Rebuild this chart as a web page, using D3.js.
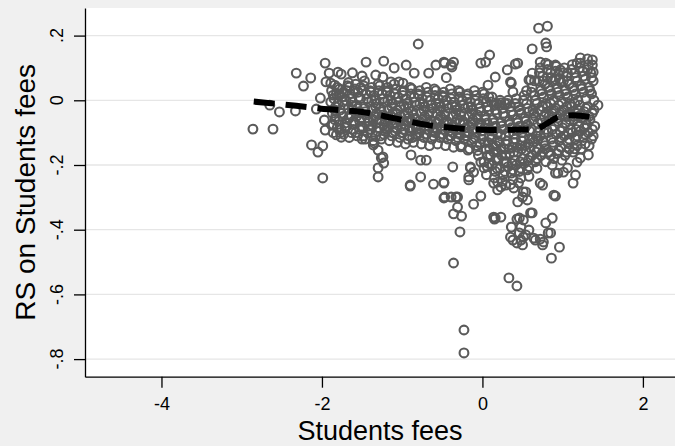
<!DOCTYPE html>
<html>
<head>
<meta charset="utf-8">
<script src="https://cdn.jsdelivr.net/npm/d3@7"></script>
<style>
  html, body { margin: 0; padding: 0; background: #f0f0f0; }
  svg { display: block; }
  text { font-family: "Liberation Sans", Arial, Helvetica, sans-serif; fill: #000; }
</style>
</head>
<body>
<svg id="chart" width="675" height="446"></svg>
<script>
// ---------------- DATA ----------------
const xTicks = [-4, -2, 0, 2];
const xTickLabels = ["-4", "-2", "0", "2"];
const yTicks = [0.2, 0, -0.2, -0.4, -0.6, -0.8];
const yTickLabels = [".2", "0", "-.2", "-.4", "-.6", "-.8"];
const xTitle = "Students fees";
const yTitle = "RS on Students fees";

// Lowess smoother
const lowessX = [-2.85, -2.32, -1.91, -1.50, -1.09, -0.69, -0.29, 0.10, 0.50, 0.65, 0.75, 0.95, 1.13, 1.41];
const lowessY = [-0.004, -0.017, -0.028, -0.036, -0.056, -0.076, -0.087, -0.092, -0.090, -0.090, -0.080, -0.052, -0.046, -0.055];

// Scatter: sparse points on the left
const pointsLeft = [[-2.86,-0.089],[-2.61,-0.089],[-2.65,-0.015],[-2.53,-0.036],[-2.32,0.084],[-2.23,0.044],[-2.14,0.069],[-2.33,-0.033],[-2.07,-0.027],[-2.13,-0.138],[-2.05,-0.160],[-1.99,-0.141],[-1.99,-0.240],[-1.96,0.115],[-2.02,0.007],[-1.91,0.084],[-1.80,0.087],[-1.76,0.081],[-1.95,0.057],[-1.89,0.053],[-1.84,0.047],[-1.97,-0.061],[-1.96,-0.092],[-1.88,-0.077],[-1.82,-0.107],[-1.76,-0.114],[-1.86,0.016],[-1.78,0.016],[-1.66,0.041],[-1.45,0.118],[-1.23,0.121],[-1.62,0.085],[-1.50,0.075]];

// Scatter: points above the main cloud
const pointsTop = [[-1.10,0.100],[-0.95,0.109],[-0.85,0.084],[-0.67,0.084],[-0.58,0.109],[-0.47,0.115],[-0.39,0.109],[-0.36,0.118],[-0.02,0.115],[0.04,0.118],[0.07,0.047],[-1.33,0.078],[-1.24,0.072],[-1.14,0.057],[-1.04,0.057],[-0.99,0.053],[-0.80,0.174],[-0.48,0.118],[-0.38,0.103],[0.70,0.223],[0.81,0.229],[0.79,0.177],[0.80,0.165],[0.62,0.159],[0.09,0.140],[0.16,0.072],[0.31,0.094],[0.41,0.112],[0.44,0.115],[0.35,0.057],[0.36,0.053],[0.38,0.026],[0.60,0.063],[0.62,0.084],[1.18,0.115],[1.31,0.128],[1.37,0.125],[1.38,0.087],[1.37,0.109],[1.44,-0.015],[1.22,0.131],[0.72,0.118],[0.79,0.115],[0.91,0.109],[1.06,0.084],[0.97,0.094],[0.58,0.063],[0.23,-0.008],[0.16,-0.015],[-0.45,0.070]];

// Scatter: points below the main cloud
const pointsBottom = [[1.32,-0.169],[0.94,-0.225],[1.01,-0.222],[1.16,-0.231],[1.13,-0.256],[0.89,-0.293],[0.91,-0.296],[0.72,-0.256],[0.75,-0.262],[-0.37,-0.206],[-0.48,-0.256],[-0.33,-0.299],[-0.11,-0.321],[-0.02,-0.296],[-0.15,-0.209],[-0.11,-0.222],[-0.17,-0.246],[0.19,-0.253],[0.23,-0.268],[0.44,-0.314],[0.50,-0.299],[0.51,-0.283],[0.54,-0.283],[0.14,-0.361],[0.23,-0.361],[-0.90,-0.265],[-0.47,-0.299],[-0.31,-0.330],[-0.36,-0.351],[-0.26,-0.358],[0.15,-0.367],[-0.28,-0.407],[-0.36,-0.503],[0.33,-0.549],[0.43,-0.574],[-0.23,-0.710],[-0.23,-0.781],[0.46,-0.364],[0.51,-0.370],[0.43,-0.367],[0.60,-0.348],[0.48,-0.392],[0.36,-0.392],[0.38,-0.432],[0.43,-0.441],[0.48,-0.432],[0.54,-0.416],[0.58,-0.401],[0.46,-0.410],[0.50,-0.447],[0.66,-0.432],[0.72,-0.429],[0.75,-0.447],[0.76,-0.438],[0.79,-0.379],[0.87,-0.364],[0.85,-0.410],[0.96,-0.454],[0.86,-0.488],[0.16,-0.364],[0.39,-0.271],[0.29,-0.262],[0.14,-0.256],[0.19,-0.277],[0.56,-0.308],[0.62,-0.348],[0.35,-0.423],[0.51,-0.423],[0.64,-0.426],[0.82,-0.410],[1.18,-0.191],[1.22,-0.178],[1.06,-0.209],[0.91,-0.225],[-1.35,-0.132],[-1.30,-0.154],[-1.24,-0.175],[-1.23,-0.194],[-1.30,-0.237],[-1.36,-0.138],[-1.26,-0.178],[-1.30,-0.209],[-0.89,-0.169],[-0.77,-0.185],[-0.70,-0.185],[-0.77,-0.237],[-0.90,-0.262],[-0.61,-0.259],[-0.48,-0.253],[-0.27,-0.144],[-0.18,-0.154],[-0.15,-0.206],[-0.17,-0.237],[-0.02,-0.191],[0.02,-0.209],[-0.39,-0.299],[-0.31,-0.299],[-0.48,-0.302]];

// Scatter: dense main cloud, x from -1.9 to 0
const pointsCoreLeft = [
[-1.88,0.030],[-1.85,0.005],[-1.83,-0.020],[-1.87,-0.040],[-1.84,-0.060],[-1.81,-0.085],[-1.86,-0.100],[-1.80,-0.010],[-1.82,0.020],
[-1.78,0.035],[-1.75,0.010],[-1.72,-0.015],[-1.77,-0.030],[-1.74,-0.050],[-1.71,-0.070],[-1.76,-0.090],[-1.73,-0.105],[-1.70,0.000],[-1.79,-0.065],
[-1.68,0.045],[-1.65,0.020],[-1.62,-0.005],[-1.67,-0.025],[-1.64,-0.045],[-1.61,-0.065],[-1.69,-0.080],[-1.63,-0.100],[-1.66,-0.115],[-1.60,0.030],[-1.62,-0.030],
[-1.58,0.050],[-1.55,0.025],[-1.52,0.005],[-1.57,-0.015],[-1.54,-0.035],[-1.51,-0.055],[-1.59,-0.070],[-1.53,-0.090],[-1.56,-0.110],[-1.50,-0.120],[-1.52,0.040],[-1.57,-0.050],
[-1.48,0.045],[-1.45,0.020],[-1.42,-0.005],[-1.47,-0.025],[-1.44,-0.045],[-1.41,-0.065],[-1.49,-0.085],[-1.43,-0.100],[-1.46,-0.120],[-1.40,0.030],[-1.42,-0.080],[-1.47,0.060],
[-1.38,0.040],[-1.35,0.015],[-1.32,-0.010],[-1.37,-0.030],[-1.34,-0.050],[-1.31,-0.070],[-1.39,-0.090],[-1.33,-0.110],[-1.36,-0.125],[-1.30,0.050],[-1.32,-0.040],[-1.38,0.000],
[-1.28,0.045],[-1.25,0.020],[-1.22,-0.005],[-1.27,-0.025],[-1.24,-0.045],[-1.21,-0.065],[-1.29,-0.085],[-1.23,-0.105],[-1.26,-0.120],[-1.20,0.030],[-1.22,-0.085],[-1.28,-0.060],
[-1.18,0.040],[-1.15,0.015],[-1.12,-0.010],[-1.17,-0.030],[-1.14,-0.050],[-1.11,-0.070],[-1.19,-0.090],[-1.13,-0.110],[-1.16,-0.125],[-1.10,0.050],[-1.12,-0.040],[-1.18,0.000],
[-1.08,0.035],[-1.05,0.010],[-1.02,-0.020],[-1.07,-0.040],[-1.04,-0.060],[-1.01,-0.080],[-1.09,-0.095],[-1.03,-0.115],[-1.06,-0.130],[-1.00,0.025],[-1.02,-0.050],[-1.08,-0.070],
[-0.98,0.030],[-0.95,0.005],[-0.92,-0.025],[-0.97,-0.045],[-0.94,-0.065],[-0.91,-0.085],[-0.99,-0.100],[-0.93,-0.120],[-0.96,-0.135],[-0.90,0.040],[-0.92,-0.055],[-0.98,-0.015],
[-0.88,0.035],[-0.85,0.010],[-0.82,-0.015],[-0.87,-0.035],[-0.84,-0.055],[-0.81,-0.075],[-0.89,-0.095],[-0.83,-0.110],[-0.86,-0.130],[-0.80,0.020],[-0.82,-0.090],[-0.88,-0.065],
[-0.78,0.030],[-0.75,0.005],[-0.72,-0.020],[-0.77,-0.040],[-0.74,-0.060],[-0.71,-0.080],[-0.79,-0.100],[-0.73,-0.115],[-0.76,-0.135],[-0.70,0.040],[-0.72,-0.050],[-0.78,-0.010],
[-0.68,0.025],[-0.65,0.000],[-0.62,-0.025],[-0.67,-0.045],[-0.64,-0.065],[-0.61,-0.085],[-0.69,-0.105],[-0.63,-0.120],[-0.66,-0.140],[-0.60,0.035],[-0.62,-0.095],[-0.68,-0.070],
[-0.58,0.030],[-0.55,0.005],[-0.52,-0.020],[-0.57,-0.040],[-0.54,-0.060],[-0.51,-0.080],[-0.59,-0.100],[-0.53,-0.115],[-0.56,-0.135],[-0.50,0.015],[-0.52,-0.050],[-0.58,-0.010],
[-0.48,0.025],[-0.45,0.000],[-0.42,-0.025],[-0.47,-0.045],[-0.44,-0.065],[-0.41,-0.085],[-0.49,-0.105],[-0.43,-0.120],[-0.46,-0.140],[-0.40,0.035],[-0.42,-0.095],[-0.48,-0.070],
[-0.38,0.020],[-0.35,-0.005],[-0.32,-0.030],[-0.37,-0.050],[-0.34,-0.070],[-0.31,-0.090],[-0.39,-0.110],[-0.33,-0.125],[-0.36,-0.145],[-0.30,0.030],[-0.32,-0.060],[-0.38,-0.015],
[-0.28,0.025],[-0.25,0.000],[-0.22,-0.025],[-0.27,-0.045],[-0.24,-0.065],[-0.21,-0.085],[-0.29,-0.105],[-0.23,-0.120],[-0.26,-0.140],[-0.20,0.015],[-0.22,-0.100],[-0.28,-0.070],
[-0.18,0.020],[-0.15,-0.005],[-0.12,-0.030],[-0.17,-0.050],[-0.14,-0.070],[-0.11,-0.090],[-0.19,-0.110],[-0.13,-0.130],[-0.16,-0.150],[-0.10,0.030],[-0.12,-0.060],[-0.18,-0.020],
[-0.08,0.015],[-0.05,-0.010],[-0.02,-0.035],[-0.07,-0.055],[-0.04,-0.075],[-0.01,-0.095],[-0.09,-0.115],[-0.03,-0.135],[-0.06,-0.155],[0.00,0.025],[-0.02,-0.070],[-0.08,-0.100],[-0.05,-0.170]
];

// Scatter: dense main cloud, x from 0 to 1.4
const pointsCoreRight = [
[0.02,0.020],[0.05,-0.005],[0.08,-0.030],[0.03,-0.050],[0.06,-0.070],[0.09,-0.090],[0.01,-0.110],[0.07,-0.130],[0.04,-0.150],[0.10,-0.170],[0.02,-0.190],[0.06,-0.205],[0.08,0.010],[0.03,-0.085],[0.09,-0.150],[0.05,-0.230],
[0.12,0.010],[0.15,-0.015],[0.18,-0.040],[0.13,-0.060],[0.16,-0.080],[0.19,-0.100],[0.11,-0.120],[0.17,-0.140],[0.14,-0.160],[0.20,-0.180],[0.12,-0.200],[0.16,-0.220],[0.18,-0.010],[0.13,-0.095],[0.19,-0.160],[0.15,-0.240],
[0.22,0.000],[0.25,-0.025],[0.28,-0.050],[0.23,-0.070],[0.26,-0.090],[0.29,-0.110],[0.21,-0.130],[0.27,-0.150],[0.24,-0.170],[0.30,-0.190],[0.22,-0.210],[0.26,-0.230],[0.28,-0.010],[0.23,-0.110],[0.29,-0.170],[0.25,-0.250],
[0.32,0.000],[0.35,-0.020],[0.38,-0.045],[0.33,-0.065],[0.36,-0.085],[0.39,-0.105],[0.31,-0.125],[0.37,-0.145],[0.34,-0.165],[0.40,-0.185],[0.32,-0.205],[0.36,-0.225],[0.38,-0.245],[0.33,-0.100],[0.39,-0.160],[0.35,-0.260],
[0.42,0.005],[0.45,-0.020],[0.48,-0.040],[0.43,-0.060],[0.46,-0.080],[0.49,-0.100],[0.41,-0.120],[0.47,-0.140],[0.44,-0.160],[0.50,-0.180],[0.42,-0.200],[0.46,-0.220],[0.48,-0.240],[0.43,-0.090],[0.49,-0.150],[0.45,-0.255],
[0.52,0.015],[0.55,-0.010],[0.58,-0.035],[0.53,-0.055],[0.56,-0.075],[0.59,-0.095],[0.51,-0.115],[0.57,-0.135],[0.54,-0.155],[0.60,-0.175],[0.52,-0.195],[0.56,-0.215],[0.58,-0.235],[0.53,-0.085],[0.59,-0.145],[0.55,0.030],
[0.62,0.040],[0.65,0.015],[0.68,-0.010],[0.63,-0.030],[0.66,-0.050],[0.69,-0.070],[0.61,-0.090],[0.67,-0.110],[0.64,-0.130],[0.70,-0.150],[0.62,-0.170],[0.66,-0.190],[0.68,-0.210],[0.63,-0.060],[0.69,-0.120],[0.65,0.060],
[0.72,0.100],[0.75,0.075],[0.78,0.050],[0.73,0.030],[0.76,0.010],[0.79,-0.010],[0.71,-0.030],[0.77,-0.050],[0.74,-0.070],[0.80,-0.090],[0.72,-0.110],[0.76,-0.130],[0.78,-0.150],[0.73,-0.170],[0.79,-0.190],[0.75,-0.020],[0.71,0.060],
[0.82,0.110],[0.85,0.085],[0.88,0.060],[0.83,0.040],[0.86,0.020],[0.89,0.000],[0.81,-0.020],[0.87,-0.040],[0.84,-0.060],[0.90,-0.080],[0.82,-0.100],[0.86,-0.120],[0.88,-0.140],[0.83,-0.160],[0.89,-0.180],[0.85,-0.010],[0.81,0.070],[0.87,-0.200],
[0.92,0.105],[0.95,0.080],[0.98,0.055],[0.93,0.035],[0.96,0.015],[0.99,-0.005],[0.91,-0.025],[0.97,-0.045],[0.94,-0.065],[1.00,-0.085],[0.92,-0.105],[0.96,-0.125],[0.98,-0.145],[0.93,-0.165],[0.99,-0.185],[0.95,-0.015],[0.91,0.065],
[1.02,0.100],[1.05,0.075],[1.08,0.050],[1.03,0.030],[1.06,0.010],[1.09,-0.010],[1.01,-0.030],[1.07,-0.050],[1.04,-0.070],[1.10,-0.090],[1.02,-0.110],[1.06,-0.130],[1.08,-0.150],[1.03,-0.170],[1.09,-0.060],[1.05,-0.020],[1.01,0.060],
[1.12,0.110],[1.15,0.085],[1.18,0.060],[1.13,0.040],[1.16,0.020],[1.19,0.000],[1.11,-0.020],[1.17,-0.040],[1.14,-0.060],[1.20,-0.080],[1.12,-0.100],[1.16,-0.120],[1.18,-0.140],[1.13,-0.160],[1.19,-0.050],[1.15,-0.010],
[1.22,0.115],[1.25,0.090],[1.28,0.065],[1.23,0.045],[1.26,0.025],[1.29,0.005],[1.21,-0.015],[1.27,-0.035],[1.24,-0.055],[1.30,-0.075],[1.22,-0.095],[1.26,-0.115],[1.28,-0.135],[1.23,-0.150],[1.29,-0.060],
[1.32,0.110],[1.35,0.085],[1.38,0.060],[1.33,0.040],[1.36,0.020],[1.39,0.000],[1.31,-0.020],[1.37,-0.040],[1.34,-0.060],[1.40,-0.080],[1.32,-0.100],[1.36,-0.120],[1.33,-0.140]
];

// Scatter: extra points filling the dense core
const pointsCoreFill = [
[-1.89,-0.005],[-1.84,-0.030],[-1.86,-0.075],[-1.81,0.040],[-1.83,-0.050],
[-1.79,0.020],[-1.74,-0.005],[-1.76,-0.040],[-1.71,-0.085],[-1.73,0.025],[-1.77,-0.100],
[-1.69,0.030],[-1.64,0.005],[-1.66,-0.055],[-1.61,-0.090],[-1.63,-0.015],[-1.67,0.055],
[-1.59,0.035],[-1.54,0.010],[-1.56,-0.025],[-1.51,-0.080],[-1.53,-0.065],[-1.58,-0.100],
[-1.49,0.030],[-1.44,0.005],[-1.46,-0.035],[-1.41,-0.090],[-1.43,-0.055],[-1.48,-0.110],
[-1.39,0.025],[-1.34,0.000],[-1.36,-0.060],[-1.31,-0.095],[-1.33,-0.020],[-1.37,-0.080],
[-1.29,0.030],[-1.24,0.005],[-1.26,-0.035],[-1.21,-0.095],[-1.23,-0.075],[-1.27,-0.110],
[-1.19,0.025],[-1.14,0.000],[-1.16,-0.060],[-1.11,-0.100],[-1.13,-0.020],[-1.17,-0.080],
[-1.09,0.020],[-1.04,-0.005],[-1.06,-0.030],[-1.01,-0.100],[-1.03,-0.065],[-1.07,-0.085],
[-0.99,0.015],[-0.94,-0.010],[-0.96,-0.075],[-0.91,-0.110],[-0.93,-0.040],[-0.97,-0.090],
[-0.89,0.020],[-0.84,-0.005],[-0.86,-0.045],[-0.81,-0.105],[-0.83,-0.080],[-0.87,-0.115],
[-0.79,0.015],[-0.74,-0.010],[-0.76,-0.070],[-0.71,-0.105],[-0.73,-0.030],[-0.77,-0.090],
[-0.69,0.010],[-0.64,-0.015],[-0.66,-0.035],[-0.61,-0.110],[-0.63,-0.075],[-0.67,-0.090],
[-0.59,0.015],[-0.54,-0.010],[-0.56,-0.070],[-0.51,-0.105],[-0.53,-0.030],[-0.57,-0.090],
[-0.49,0.010],[-0.44,-0.015],[-0.46,-0.035],[-0.41,-0.110],[-0.43,-0.075],[-0.47,-0.090],
[-0.39,0.005],[-0.34,-0.020],[-0.36,-0.080],[-0.31,-0.115],[-0.33,-0.040],[-0.37,-0.100],
[-0.29,0.010],[-0.24,-0.015],[-0.26,-0.035],[-0.21,-0.110],[-0.23,-0.075],[-0.27,-0.090],
[-0.19,0.005],[-0.14,-0.020],[-0.16,-0.080],[-0.11,-0.120],[-0.13,-0.040],[-0.17,-0.100],
[-0.09,0.000],[-0.04,-0.025],[-0.06,-0.045],[-0.01,-0.120],[-0.03,-0.085],[-0.07,-0.140],
[0.01,0.005],[0.06,-0.020],[0.04,-0.060],[0.09,-0.110],[0.07,-0.170],[0.03,-0.130],[0.08,-0.195],
[0.11,-0.005],[0.16,-0.030],[0.14,-0.070],[0.19,-0.125],[0.17,-0.180],[0.13,-0.140],[0.18,-0.210],
[0.21,-0.015],[0.26,-0.040],[0.24,-0.080],[0.29,-0.135],[0.27,-0.190],[0.23,-0.150],[0.28,-0.220],
[0.31,-0.010],[0.36,-0.035],[0.34,-0.075],[0.39,-0.130],[0.37,-0.195],[0.33,-0.150],[0.38,-0.215],
[0.41,-0.010],[0.46,-0.030],[0.44,-0.070],[0.49,-0.125],[0.47,-0.190],[0.43,-0.145],[0.48,-0.210],
[0.51,0.000],[0.56,-0.025],[0.54,-0.065],[0.59,-0.120],[0.57,-0.185],[0.53,-0.140],[0.58,-0.205],
[0.61,0.025],[0.66,0.000],[0.64,-0.040],[0.69,-0.100],[0.67,-0.160],[0.63,-0.120],[0.68,-0.180],
[0.71,0.085],[0.76,0.060],[0.74,0.020],[0.79,-0.040],[0.77,-0.100],[0.73,-0.060],[0.78,-0.140],[0.75,-0.160],
[0.81,0.095],[0.86,0.070],[0.84,0.030],[0.89,-0.030],[0.87,-0.090],[0.83,-0.050],[0.88,-0.130],[0.85,-0.170],
[0.91,0.090],[0.96,0.065],[0.94,0.025],[0.99,-0.035],[0.97,-0.095],[0.93,-0.055],[0.98,-0.115],[0.95,-0.155],
[1.01,0.085],[1.06,0.060],[1.04,0.020],[1.09,-0.040],[1.07,-0.100],[1.03,-0.050],[1.08,-0.120],[1.05,-0.160],
[1.11,0.095],[1.16,0.070],[1.14,0.030],[1.19,-0.030],[1.17,-0.090],[1.13,-0.050],[1.18,-0.110],[1.15,-0.150],
[1.21,0.100],[1.26,0.075],[1.24,0.035],[1.29,-0.025],[1.27,-0.085],[1.23,-0.045],[1.28,-0.105],
[1.31,0.095],[1.36,0.070],[1.34,0.030],[1.39,-0.030],[1.37,-0.090],[1.33,-0.050],[1.38,-0.110]
];

// ---------------- CHART ----------------
const W = 675, H = 446;
const plot = { left: 85, right: 675, top: 8, bottom: 376.7 };

const svg = d3.select("#chart");

svg.append("rect").attr("x", 0).attr("y", 0).attr("width", W).attr("height", H).attr("fill", "#f0f0f0");
svg.append("rect")
  .attr("x", plot.left).attr("y", plot.top)
  .attr("width", plot.right - plot.left).attr("height", plot.bottom - plot.top)
  .attr("fill", "#ffffff");

const x = d3.scaleLinear().domain([-4.953, 2.4]).range([plot.left, plot.right]);
const y = d3.scaleLinear().domain([-0.8544, 0.2853]).range([plot.bottom, plot.top]);

// gridlines
svg.append("g").selectAll("line").data(yTicks).join("line")
  .attr("x1", plot.left).attr("x2", plot.right)
  .attr("y1", d => y(d)).attr("y2", d => y(d))
  .attr("stroke", "#e6e6e6").attr("stroke-width", 1.3);

// scatter
const allPoints = [].concat(pointsLeft, pointsCoreLeft, pointsCoreRight, pointsCoreFill, pointsTop, pointsBottom);
svg.append("g").selectAll("circle").data(allPoints).join("circle")
  .attr("cx", d => x(d[0])).attr("cy", d => y(d[1]))
  .attr("r", 4.4)
  .attr("fill", "none")
  .attr("stroke", "#5a5a5a")
  .attr("stroke-width", 2.1);

// lowess
const lowess = lowessX.map((v, i) => [v, lowessY[i]]);
svg.append("path")
  .datum(lowess)
  .attr("d", d3.line().x(d => x(d[0])).y(d => y(d[1])).curve(d3.curveMonotoneX))
  .attr("fill", "none")
  .attr("stroke", "#000")
  .attr("stroke-width", 6)
  .attr("stroke-dasharray", "21,11");

// x axis
const xAxis = d3.axisBottom(x)
  .tickValues(xTicks)
  .tickSize(11).tickSizeOuter(0).tickPadding(10)
  .tickFormat((d, i) => xTickLabels[i]);
const gx = svg.append("g").attr("transform", `translate(0,${plot.bottom})`).call(xAxis);
gx.select(".domain").attr("stroke", "#000").attr("stroke-width", 1.3);
gx.selectAll(".tick line").attr("stroke", "#000").attr("stroke-width", 1.3);
gx.selectAll(".tick text").style("font-size", "18px").attr("fill", "#000");

// y axis (labels drawn rotated)
const yAxis = d3.axisLeft(y)
  .tickValues(yTicks)
  .tickSize(11).tickSizeOuter(0)
  .tickFormat("");
const gy = svg.append("g").attr("transform", `translate(${plot.left},0)`).call(yAxis);
gy.select(".domain").attr("stroke", "#000").attr("stroke-width", 1.3);
gy.selectAll(".tick line").attr("stroke", "#000").attr("stroke-width", 1.3);

svg.append("g").selectAll("text").data(yTicks).join("text")
  .attr("transform", d => `translate(63,${y(d)}) rotate(-90)`)
  .attr("text-anchor", "middle")
  .style("font-size", "18px")
  .text((d, i) => yTickLabels[i]);

// axis titles
svg.append("text")
  .attr("x", (plot.left + plot.right) / 2).attr("y", 440)
  .attr("text-anchor", "middle")
  .style("font-size", "27px")
  .text(xTitle);

svg.append("text")
  .attr("transform", `translate(35,${(plot.top + plot.bottom) / 2}) rotate(-90)`)
  .attr("text-anchor", "middle")
  .style("font-size", "28px")
  .text(yTitle);
</script>
</body>
</html>
